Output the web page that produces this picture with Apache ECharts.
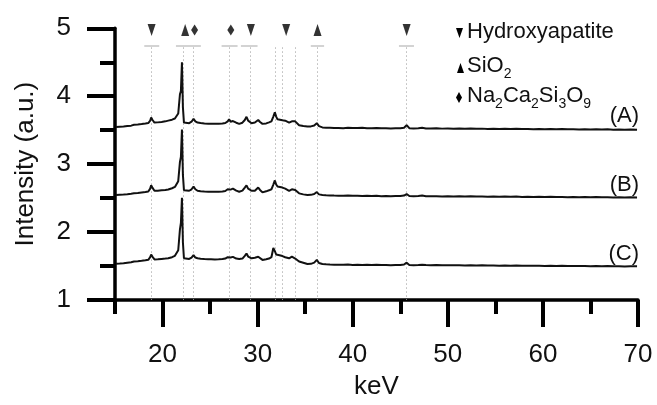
<!DOCTYPE html>
<html>
<head>
<meta charset="utf-8">
<script src="https://cdn.jsdelivr.net/npm/echarts@6/dist/echarts.min.js"></script>
<style>
html,body{margin:0;padding:0;background:#fff;}
#chart{width:657px;height:405px;}
</style>
</head>
<body>
<div id="chart"></div>
<script>
// ---- data ----
const energy = [15.1,15.5,15.9,16.3,16.7,17.0,17.4,17.8,18.2,18.5,18.7,18.8,18.95,19.15,19.5,19.9,20.3,20.6,21.0,21.3,21.45,21.65,21.83,21.93,22.04,22.14,22.25,22.45,22.8,23.05,23.26,23.45,23.68,24.0,24.4,24.8,25.1,25.5,25.9,26.3,26.6,26.85,27.0,27.15,27.26,27.4,27.54,27.75,28.06,28.4,28.65,28.83,29.0,29.36,29.71,29.9,30.06,30.25,30.51,30.9,31.2,31.45,31.65,31.81,31.95,32.09,32.3,32.61,32.9,33.31,33.6,33.77,33.95,34.36,34.8,35.24,35.6,35.95,36.22,36.45,36.81,37.2,37.6,38.04,38.5,39.0,39.5,40.0,40.5,41.0,41.5,42.0,42.5,43.0,43.5,44.0,44.5,45.0,45.4,45.67,45.95,46.4,46.9,47.3,47.7,48.2,48.8,49.4,50.0,50.6,51.2,51.8,52.4,53.0,53.6,54.2,54.8,55.4,56.0,56.6,57.2,57.8,58.4,59.0,59.6,60.2,60.8,61.4,62.0,62.6,63.2,63.8,64.4,65.0,65.6,66.2,66.8,67.4,68.0,68.6,69.2,69.9];
const sampleA = [3.546,3.550,3.553,3.560,3.567,3.579,3.583,3.590,3.598,3.605,3.640,3.688,3.650,3.612,3.615,3.622,3.630,3.641,3.655,3.672,3.690,3.745,4.029,4.076,4.500,3.840,3.612,3.605,3.603,3.625,3.669,3.630,3.612,3.605,3.598,3.595,3.593,3.595,3.596,3.598,3.605,3.630,3.660,3.625,3.617,3.635,3.650,3.610,3.593,3.610,3.650,3.697,3.640,3.603,3.612,3.630,3.650,3.620,3.593,3.600,3.615,3.630,3.700,3.764,3.700,3.660,3.665,3.645,3.640,3.612,3.630,3.655,3.630,3.574,3.562,3.555,3.556,3.570,3.603,3.560,3.541,3.537,3.535,3.532,3.534,3.530,3.535,3.531,3.533,3.536,3.530,3.528,3.532,3.527,3.530,3.526,3.529,3.528,3.535,3.575,3.530,3.525,3.528,3.535,3.526,3.524,3.527,3.523,3.526,3.522,3.525,3.521,3.524,3.520,3.523,3.519,3.522,3.518,3.521,3.517,3.520,3.516,3.519,3.515,3.518,3.514,3.517,3.513,3.516,3.512,3.515,3.511,3.514,3.510,3.513,3.509,3.512,3.508,3.511,3.507,3.510,3.508];
const sampleB = [2.546,2.550,2.553,2.558,2.564,2.570,2.576,2.583,2.590,2.597,2.640,2.688,2.650,2.608,2.610,2.615,2.620,2.627,2.645,2.665,2.680,2.750,3.034,3.105,3.508,2.845,2.617,2.610,2.608,2.630,2.670,2.630,2.608,2.600,2.597,2.595,2.594,2.592,2.594,2.597,2.605,2.630,2.655,2.625,2.622,2.640,2.646,2.610,2.594,2.610,2.655,2.688,2.640,2.608,2.608,2.630,2.655,2.620,2.584,2.600,2.615,2.630,2.700,2.760,2.700,2.670,2.672,2.655,2.640,2.608,2.630,2.646,2.620,2.570,2.555,2.546,2.548,2.560,2.589,2.555,2.546,2.542,2.540,2.537,2.536,2.534,2.538,2.533,2.535,2.532,2.534,2.530,2.533,2.529,2.532,2.528,2.531,2.530,2.537,2.560,2.530,2.527,2.532,2.537,2.528,2.526,2.529,2.525,2.528,2.524,2.527,2.523,2.526,2.522,2.525,2.521,2.524,2.520,2.523,2.519,2.522,2.518,2.521,2.517,2.520,2.516,2.519,2.515,2.518,2.514,2.517,2.513,2.516,2.512,2.515,2.511,2.514,2.510,2.513,2.509,2.512,2.510];
const sampleC = [1.533,1.536,1.540,1.548,1.555,1.566,1.570,1.577,1.585,1.592,1.630,1.670,1.635,1.598,1.600,1.605,1.610,1.615,1.630,1.650,1.662,1.732,2.040,2.134,2.504,1.850,1.614,1.608,1.604,1.625,1.661,1.625,1.614,1.608,1.603,1.600,1.600,1.598,1.600,1.603,1.610,1.630,1.647,1.625,1.637,1.635,1.637,1.610,1.604,1.610,1.650,1.685,1.640,1.614,1.623,1.635,1.637,1.610,1.590,1.600,1.610,1.630,1.765,1.720,1.670,1.668,1.660,1.647,1.630,1.614,1.637,1.625,1.610,1.566,1.548,1.530,1.532,1.550,1.590,1.545,1.530,1.525,1.522,1.519,1.520,1.518,1.521,1.517,1.520,1.516,1.518,1.515,1.519,1.514,1.516,1.513,1.517,1.515,1.522,1.550,1.516,1.512,1.516,1.520,1.514,1.512,1.515,1.511,1.513,1.510,1.512,1.509,1.511,1.508,1.510,1.507,1.509,1.506,1.508,1.505,1.507,1.504,1.506,1.503,1.505,1.502,1.504,1.501,1.503,1.500,1.502,1.499,1.501,1.498,1.500,1.497,1.499,1.496,1.498,1.495,1.497,1.496];

const xMajorTicks = [20, 30, 40, 50, 60, 70];
const xMinorTicks = [15, 25, 35, 45, 55, 65];
const sampleLabels = ['(A)', '(B)', '(C)'];

// phase markers at top
const hydroxyapatitePeaks = [18.85, 29.29, 33.0, 45.67];
const sio2Peaks = [22.38, 36.3];
const ncsPeaks = [23.37, 27.18];
const markerLevel = 4.976;
const markerBars = [[18.08, 19.65], [21.41, 24.03], [26.21, 27.89], [28.24, 29.99], [35.59, 36.99], [44.86, 46.44]];
const barLevel = 4.749;
const refLines = [18.78, 22.22, 23.27, 27.0, 29.18, 31.88, 32.62, 33.98, 36.22, 45.67];
const refTop = 4.72;

// ---- chart ----
const FONT = "'Liberation Sans', Arial, sans-serif";
const chart = echarts.init(document.getElementById('chart'), null, {renderer: 'canvas'});

function pairs(vals) { return energy.map((x, i) => [x, vals[i]]); }

const lineSeries = [sampleA, sampleB, sampleC].map(v => ({
  type: 'line', data: pairs(v), showSymbol: false, symbol: 'none',
  lineStyle: {color: '#111', width: 2}, z: 5, silent: true, animation: false
}));

const option = {
  animation: false,
  backgroundColor: '#fff',
  grid: {left: 115, right: 19, top: 28.3, bottom: 95, containLabel: false},
  xAxis: [{
    type: 'value', min: 15, max: 70, gridIndex: 0, position: 'bottom',
    name: 'keV', nameLocation: 'middle', nameGap: 74,
    nameTextStyle: {fontSize: 26, color: '#111', fontFamily: FONT},
    axisLine: {show: true, onZero: false, lineStyle: {color: '#000', width: 3.5}},
    axisTick: {show: true, customValues: xMajorTicks, length: 27, lineStyle: {color: '#000', width: 4}},
    axisLabel: {customValues: xMajorTicks, fontSize: 26, color: '#111', margin: 42, fontFamily: FONT},
    splitLine: {show: false}
  }, {
    type: 'value', min: 15, max: 70, gridIndex: 0, position: 'bottom',
    axisLine: {show: false, onZero: false},
    axisTick: {show: true, customValues: xMinorTicks, length: 14, lineStyle: {color: '#000', width: 4}},
    axisLabel: {show: false},
    splitLine: {show: false}
  }],
  yAxis: {
    type: 'value', min: 1, max: 5, interval: 1,
    name: 'Intensity (a.u.)', nameLocation: 'middle', nameGap: 76,
    nameTextStyle: {fontSize: 26, color: '#111', fontFamily: FONT},
    axisLine: {show: true, onZero: false, lineStyle: {color: '#000', width: 3.5}},
    axisTick: {show: true, length: 28, lineStyle: {color: '#000', width: 4}},
    minorTick: {show: true, splitNumber: 2, length: 15, lineStyle: {color: '#000', width: 4}},
    axisLabel: {fontSize: 26, color: '#111', margin: 44, fontFamily: FONT},
    splitLine: {show: false}, minorSplitLine: {show: false}
  },
  series: [
    {
      type: 'line', data: [], silent: true, z: 1,
      markLine: {
        silent: true, symbol: ['none', 'none'], label: {show: false},
        lineStyle: {type: [1.5, 2.5], color: '#b8b8b8', width: 1},
        data: refLines.map(x => [{coord: [x, refTop]}, {coord: [x, 1]}])
      }
    },
    {
      type: 'line', data: [], silent: true, z: 1,
      markLine: {
        silent: true, symbol: ['none', 'none'], label: {show: false},
        lineStyle: {type: 'solid', color: '#c4c4c4', width: 1.5},
        data: markerBars.map(b => [{coord: [b[0], barLevel]}, {coord: [b[1], barLevel]}])
      }
    },
    {
      type: 'scatter', data: hydroxyapatitePeaks.map(x => [x, markerLevel]),
      symbol: 'triangle', symbolRotate: 180, symbolSize: [8, 12],
      itemStyle: {color: '#000'}, silent: true, z: 6
    },
    {
      type: 'scatter', data: sio2Peaks.map(x => [x, markerLevel]),
      symbol: 'triangle', symbolSize: [8, 12],
      itemStyle: {color: '#000'}, silent: true, z: 6
    },
    {
      type: 'scatter', data: ncsPeaks.map(x => [x, markerLevel]),
      symbol: 'diamond', symbolSize: [7, 11],
      itemStyle: {color: '#000'}, silent: true, z: 6
    }
  ].concat(lineSeries),
  graphic: [
    {type: 'polygon', shape: {points: [[456, 28], [463, 28], [459.5, 38]]}, style: {fill: '#000'}},
    {type: 'polygon', shape: {points: [[457, 73], [464, 73], [460.5, 63]]}, style: {fill: '#000'}},
    {type: 'polygon', shape: {points: [[459, 92], [462, 97.5], [459, 103], [456, 97.5]]}, style: {fill: '#000'}},
    {type: 'text', left: 467, top: 21, style: {text: 'Hydroxyapatite', font: '22px ' + FONT, fill: '#111'}},
    {type: 'text', left: 467, top: 55, style: {
      text: '{n|SiO}{s|2}', fill: '#111',
      rich: {n: {fontSize: 22, fontFamily: FONT, fill: '#111', lineHeight: 26}, s: {fontSize: 14, fontFamily: FONT, fill: '#111', padding: [16, 0, 0, 0]}}
    }},
    {type: 'text', left: 467, top: 85, style: {
      text: '{n|Na}{s|2}{n|Ca}{s|2}{n|Si}{s|3}{n|O}{s|9}', fill: '#111',
      rich: {n: {fontSize: 22, fontFamily: FONT, fill: '#111', lineHeight: 26}, s: {fontSize: 14, fontFamily: FONT, fill: '#111', padding: [16, 0, 0, 0]}}
    }}
  ].concat(sampleLabels.map((t, i) => ({
    type: 'text', right: 18, top: [105, 174, 243][i],
    style: {text: t, font: '22px ' + FONT, fill: '#111'}
  })))
};
chart.setOption(option);
</script>
</body>
</html>
